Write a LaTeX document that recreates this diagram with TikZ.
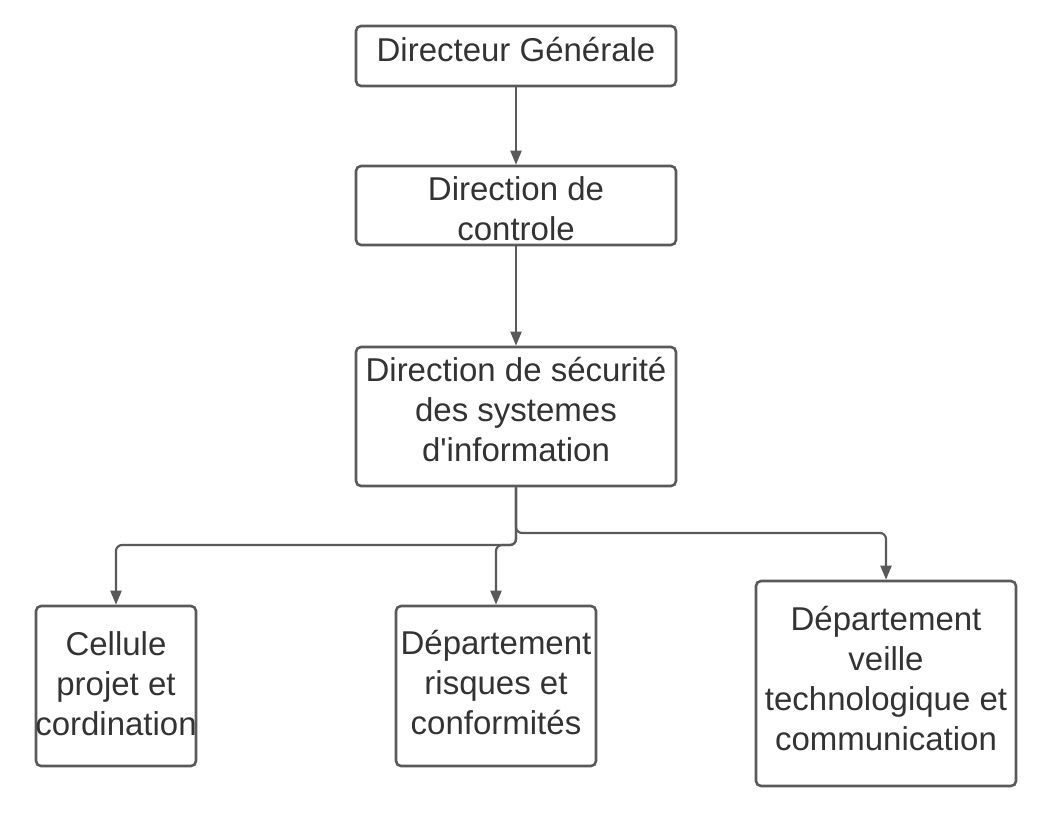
\documentclass[tikz,border=0pt]{standalone}
\usepackage{fontspec}
\setmainfont{Liberation Sans}
\usetikzlibrary{arrows.meta}
\definecolor{linegray}{HTML}{5A5A5A}
\definecolor{textgray}{HTML}{333333}

\begin{document}
\begin{tikzpicture}[x=1pt,y=-1pt,
    box/.style={draw=linegray, line width=2.6pt, rounded corners=5pt, inner sep=0pt},
    lbl/.style={inner sep=0pt, align=center, text=textgray,
        font=\fontsize{33}{40}\selectfont},
    link/.style={draw=linegray, line width=2.2pt, rounded corners=6pt,
        -{Triangle[length=14pt,width=11pt]}}]
    \useasboundingbox (0,0) rectangle (1043,817);

    % Top of the chart
    \node[box, minimum width=320pt, minimum height=60pt,
        label={[lbl,yshift=6pt]center:Directeur Générale}] (dg) at (516,56) {};
    \node[box, minimum width=320pt, minimum height=79pt,
        label={[lbl,yshift=-3pt]center:Direction de\\controle}] (dc) at (516,205.5) {};
    \node[box, minimum width=320pt, minimum height=139pt,
        label={[lbl,yshift=7pt]center:Direction de sécurité\\des systemes\\d\textquotesingle information}] (dsi) at (516,416.5) {};

    % Bottom row
    \node[box, minimum width=160pt, minimum height=160pt,
        label={[lbl,yshift=2pt]center:Cellule\\projet et\\cordination}] (cell) at (116,686) {};
    \node[box, minimum width=200pt, minimum height=160pt,
        label={[lbl,yshift=4pt]center:Département\\risques et\\conformités}] (risk) at (496,686) {};
    \node[box, minimum width=260pt, minimum height=205pt,
        label={[lbl,yshift=5pt]center:Département\\veille\\technologique et\\communication}] (veille) at (886,683.5) {};

    % Bus levels
    \coordinate (leftbus) at (516,545);
    \coordinate (rightbus) at (516,533);

    % Connectors
    \draw[link] (dg) -- (dc);
    \draw[link] (dc) -- (dsi);
    \draw[link] (dsi.south) |- (cell.north |- leftbus) -- (cell.north);
    \draw[link] (dsi.south) |- (risk.north |- leftbus) -- (risk.north);
    \draw[link] (dsi.south) |- (veille.north |- rightbus) -- (veille.north);
\end{tikzpicture}
\end{document}
